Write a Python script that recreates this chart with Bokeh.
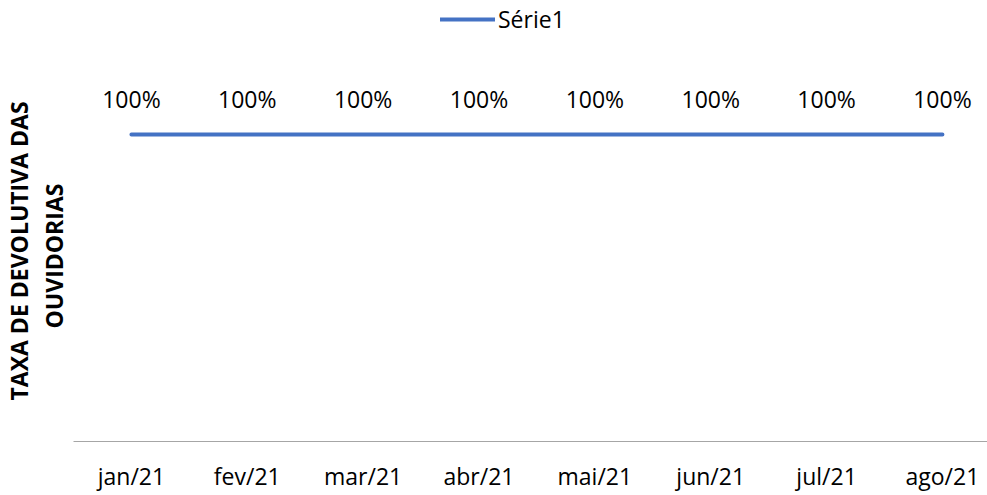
from bokeh.plotting import figure
from bokeh.models import ColumnDataSource, FixedTicker, Legend, LegendItem, Range1d, Title
from bokeh.core.properties import value
from bokeh.embed import file_html
from bokeh.resources import INLINE

months = ["jan/21", "fev/21", "mar/21", "abr/21", "mai/21", "jun/21", "jul/21", "ago/21"]
serie1 = [1.0, 1.0, 1.0, 1.0, 1.0, 1.0, 1.0, 1.0]
labels = ["100%", "100%", "100%", "100%", "100%", "100%", "100%", "100%"]
series_name = "Série1"
y_title_1 = "TAXA DE DEVOLUTIVA DAS"
y_title_2 = "OUVIDORIAS"

FONT = "Open Sans"
idx = list(range(len(months)))
src = ColumnDataSource(dict(x=idx, y=serie1, lab=labels))

p = figure(frame_width=914, frame_height=441, output_backend="svg", toolbar_location=None,
           x_range=Range1d(-0.5, 7.389), y_range=Range1d(0, 1.4365),
           min_border_left=73, min_border_right=0, min_border_top=0, min_border_bottom=47)
p.outline_line_color = None
p.background_fill_color = "white"
p.border_fill_color = "white"
p.xgrid.visible = False
p.ygrid.visible = False

r = p.line("x", "y", source=src, line_color="#4472C4", line_width=4, line_cap="round")
p.text("x", "y", text="lab", source=src, text_align="center", text_baseline="middle",
       y_offset=-36, text_font=value(FONT), text_font_size="23px", text_color="#000000")

xa = p.xaxis[0]
xa.ticker = FixedTicker(ticks=idx)
xa.major_label_overrides = {i: m for i, m in zip(idx, months)}
xa.major_tick_line_color = None
xa.minor_tick_line_color = None
xa.major_tick_out = 0
xa.major_tick_in = 0
xa.axis_line_color = "#A6A6A6"
xa.axis_line_width = 1
xa.major_label_standoff = 18
xa.major_label_text_font = FONT
xa.major_label_text_font_size = "23px"
xa.major_label_text_color = "#000000"

p.yaxis.visible = False

t2 = Title(text=y_title_2, align="left", offset=113, standoff=5, vertical_align="middle",
           text_font=FONT, text_font_size="23px", text_font_style="bold", text_color="#000000")
t1 = Title(text=y_title_1, align="left", offset=41, standoff=0,
           text_font=FONT, text_font_size="23px", text_font_style="bold", text_color="#000000")
p.add_layout(t2, "left")
p.add_layout(t1, "left")

legend = Legend(items=[LegendItem(label=series_name, renderers=[r])],
                location=(367, 406), orientation="horizontal",
                glyph_width=55, glyph_height=24, label_standoff=3,
                padding=0, margin=0, spacing=0,
                border_line_alpha=0, background_fill_alpha=0,
                label_text_font=FONT, label_text_font_size="23px", label_text_color="#000000")
p.add_layout(legend, "center")

open("out.html", "w").write(file_html(p, INLINE))
